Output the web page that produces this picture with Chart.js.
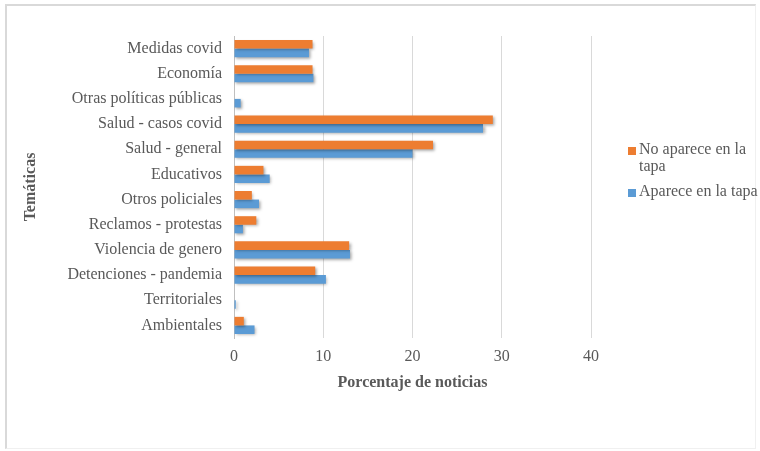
<!DOCTYPE html>
<html>
<head>
<meta charset="utf-8">
<script src="https://cdn.jsdelivr.net/npm/chart.js@4/dist/chart.umd.min.js"></script>
<style>
  html, body { margin: 0; padding: 0; background: #ffffff; }
  #wrap { position: relative; width: 760px; height: 451px; overflow: hidden; }
  #frame {
    position: absolute; left: 5px; top: 4px; width: 751px; height: 445px;
    border-top: 2px solid #d9d9d9; border-left: 2px solid #d9d9d9;
    border-right: 1px solid #f0f0f0; border-bottom: 1px solid #f0f0f0;
    box-sizing: border-box; pointer-events: none;
  }
  #chart { position: absolute; left: 0; top: 0; }
  .legend {
    position: absolute; left: 628px; top: 140px; width: 140px;
    font-family: "Liberation Serif", "Times New Roman", serif; font-size: 16px;
    color: #595959; line-height: 17px; white-space: nowrap;
  }
  .legend .item { position: relative; padding-left: 11px; margin-bottom: 8px; }
  .legend .sw { position: absolute; left: 0; top: 7px; width: 8px; height: 8px; }
</style>
</head>
<body>
<div id="wrap">
  <canvas id="chart" width="760" height="451"></canvas>
  <div id="frame"></div>
  <div class="legend">
    <div class="item"><span class="sw" style="background:#ED7D31"></span>No aparece en la<br>tapa</div>
    <div class="item"><span class="sw" style="background:#5B9BD5"></span>Aparece en la tapa</div>
  </div>
</div>
<script>
// Temáticas de las noticias (de arriba hacia abajo)
const categories = [
  "Medidas covid", "Economía", "Otras políticas públicas", "Salud - casos covid",
  "Salud - general", "Educativos", "Otros policiales", "Reclamos - protestas",
  "Violencia de genero", "Detenciones - pandemia", "Territoriales", "Ambientales"
];
// Porcentaje de noticias por temática
const noApareceEnLaTapa = [8.8, 8.8, 0, 29.0, 22.3, 3.3, 2.0, 2.5, 12.9, 9.1, 0, 1.1];
const apareceEnLaTapa   = [8.4, 8.9, 0.75, 27.9, 20.0, 4.0, 2.8, 1.0, 13.0, 10.3, 0.2, 2.3];
const xTicks = [0, 10, 20, 30, 40];

const seriesLabels = ["No aparece en la tapa", "Aparece en la tapa"];
const seriesColors = ["#ED7D31", "#5B9BD5"];

const FONT = '"Liberation Serif", "Times New Roman", serif';
const TEXT = '#595959';

// Sombra suave bajo las barras
const barShadow = {
  id: 'barShadow',
  beforeDatasetsDraw(chart) {
    const ctx = chart.ctx;
    ctx.save();
    ctx.shadowColor = 'rgba(0,0,0,0.35)';
    ctx.shadowBlur = 3;
    ctx.shadowOffsetX = 1.5;
    ctx.shadowOffsetY = 1.5;
  },
  afterDatasetsDraw(chart) {
    chart.ctx.restore();
  }
};

new Chart(document.getElementById('chart'), {
  type: 'bar',
  data: {
    labels: categories,
    datasets: [
      { label: seriesLabels[0], data: noApareceEnLaTapa, backgroundColor: seriesColors[0] },
      { label: seriesLabels[1], data: apareceEnLaTapa, backgroundColor: seriesColors[1] }
    ]
  },
  options: {
    indexAxis: 'y',
    responsive: false,
    animation: false,
    devicePixelRatio: 1,
    layout: { padding: { left: 20, top: 36, right: 169, bottom: 50 } },
    datasets: {
      bar: { categoryPercentage: 0.68, barPercentage: 1.0, borderWidth: 0 }
    },
    plugins: {
      legend: { display: false },
      tooltip: { enabled: false }
    },
    scales: {
      x: {
        min: 0, max: 40,
        afterBuildTicks(scale) { scale.ticks = xTicks.map(v => ({ value: v })); },
        afterFit(scale) { scale.height = 63; },
        grid: { color: '#d9d9d9', drawTicks: false, lineWidth: 1 },
        border: { display: false },
        ticks: { color: TEXT, font: { family: FONT, size: 16 }, padding: 9 },
        title: {
          display: true, text: 'Porcentaje de noticias', color: TEXT,
          font: { family: FONT, size: 16, weight: 'bold' },
          padding: { top: 0, bottom: 9 }
        }
      },
      y: {
        afterFit(scale) { scale.width = 214; },
        grid: { display: false, drawTicks: false },
        border: { display: true, color: '#bfbfbf', width: 1 },
        ticks: { color: TEXT, font: { family: FONT, size: 16 }, padding: 12, autoSkip: false },
        title: {
          display: true, text: 'Temáticas', color: TEXT,
          font: { family: FONT, size: 16, weight: 'bold' },
          padding: { top: 1, bottom: 0 }
        }
      }
    }
  },
  plugins: [barShadow]
});
</script>
</body>
</html>
